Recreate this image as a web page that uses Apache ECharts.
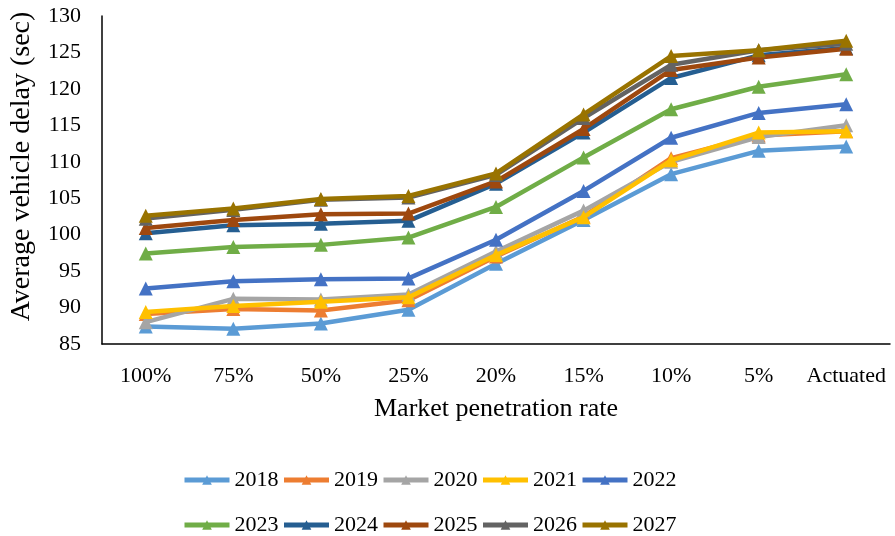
<!DOCTYPE html>
<html>
<head>
<meta charset="utf-8">
<script src="https://cdn.jsdelivr.net/npm/echarts@6/dist/echarts.min.js"></script>
<style>
  html, body { margin: 0; padding: 0; background: #fff; }
  #chart { width: 895px; height: 536px; }
</style>
</head>
<body>
<div id="chart"></div>
<script>
// Penetration-rate scenarios along the x axis
const categories = ['100%', '75%', '50%', '25%', '20%', '15%', '10%', '5%', 'Actuated'];

// Average vehicle delay (sec) per year
const years = ['2018', '2019', '2020', '2021', '2022', '2023', '2024', '2025', '2026', '2027'];
const d2018 = [87.4, 87.1, 87.8, 89.7, 96.0, 102.0, 108.3, 111.5, 112.1];
const d2019 = [89.1, 89.8, 89.6, 91.0, 97.0, 102.5, 110.5, 113.6, 114.2];
const d2020 = [88.0, 91.2, 91.1, 91.8, 97.7, 103.3, 110.0, 113.4, 115.0];
const d2021 = [89.4, 90.2, 90.8, 91.4, 97.2, 102.4, 110.2, 114.0, 114.2];
const d2022 = [92.6, 93.6, 93.9, 94.0, 99.3, 106.0, 113.3, 116.7, 117.9];
const d2023 = [97.4, 98.3, 98.6, 99.6, 103.8, 110.6, 117.2, 120.3, 122.0];
const d2024 = [100.2, 101.3, 101.5, 101.9, 107.0, 114.0, 121.5, 124.6, 125.6];
const d2025 = [100.9, 102.0, 102.8, 102.9, 107.3, 114.5, 122.6, 124.3, 125.5];
const d2026 = [102.2, 103.4, 104.8, 105.1, 108.2, 116.0, 123.3, 125.3, 126.2];
const d2027 = [102.6, 103.6, 104.9, 105.3, 108.4, 116.5, 124.5, 125.3, 126.6];
const seriesValues = [d2018, d2019, d2020, d2021, d2022, d2023, d2024, d2025, d2026, d2027];

const colors = ['#5B9BD5', '#ED7D31', '#A5A5A5', '#FFC000', '#4472C4',
                '#70AD47', '#255E91', '#9E480E', '#636363', '#997300'];

const serif = '"Liberation Serif", "Times New Roman", serif';

const chart = echarts.init(document.getElementById('chart'));

const legendCommon = {
  left: 177,
  orient: 'horizontal',
  itemWidth: 45,
  itemHeight: 12,
  itemGap: 3,
  lineStyle: { width: 5 },
  textStyle: { fontFamily: serif, fontSize: 22, color: '#000' }
};

chart.setOption({
  animation: false,
  backgroundColor: '#fff',
  color: colors,
  grid: { left: 100, right: 5, top: 16, bottom: 192, containLabel: false },
  legend: [
    Object.assign({}, legendCommon, { top: 464, data: years.slice(0, 5) }),
    Object.assign({}, legendCommon, { top: 509, data: years.slice(5) })
  ],
  xAxis: {
    type: 'category',
    data: categories,
    boundaryGap: true,
    axisLine: { lineStyle: { color: '#000', width: 1.5 } },
    axisTick: { show: false },
    axisLabel: { fontFamily: serif, fontSize: 22, color: '#000', margin: 21, interval: 0 },
    name: 'Market penetration rate',
    nameLocation: 'middle',
    nameGap: 52,
    nameTextStyle: { fontFamily: serif, fontSize: 26, color: '#000' }
  },
  yAxis: {
    type: 'value',
    min: 85,
    max: 130,
    interval: 5,
    axisLine: { show: true, lineStyle: { color: '#000', width: 1.5 } },
    axisTick: { show: false },
    splitLine: { show: false },
    axisLabel: { fontFamily: serif, fontSize: 22, color: '#000', margin: 21 },
    name: 'Average vehicle delay (sec)',
    nameLocation: 'middle',
    nameGap: 66,
    nameTextStyle: { fontFamily: serif, fontSize: 28, color: '#000', padding: [0, 0, 0, 27] }
  },
  series: years.map((y, i) => ({
    name: y,
    type: 'line',
    data: seriesValues[i],
    symbol: 'triangle',
    symbolSize: 14,
    showSymbol: true,
    lineStyle: { width: 4.5, color: colors[i] },
    itemStyle: { color: colors[i] },
    z: 2 + i
  }))
});
</script>
</body>
</html>
